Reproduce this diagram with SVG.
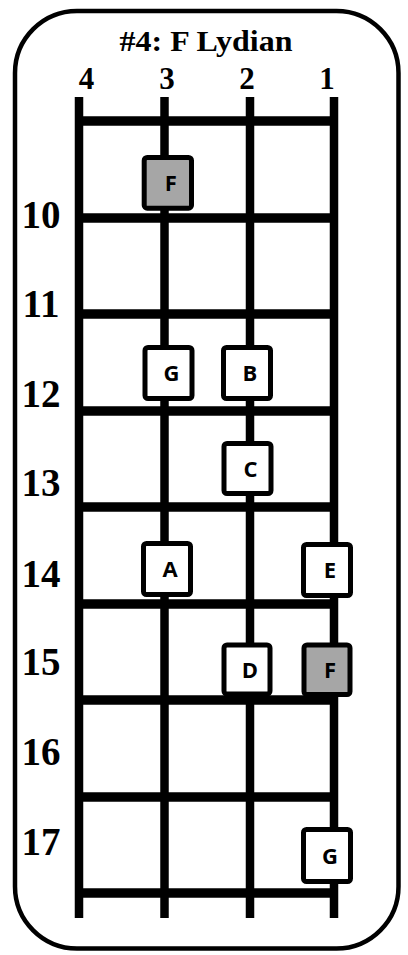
<svg xmlns="http://www.w3.org/2000/svg" width="408" height="955" viewBox="0 0 408 955">
<style>
.frame{fill:#fff;stroke:#000;stroke-width:4.5}
.str{stroke:#000;stroke-width:8.5;fill:none}
.fret{stroke:#000;stroke-width:9.5;fill:none}
.ser{font-family:"Liberation Serif","Times New Roman",serif;font-weight:bold;fill:#000;text-anchor:middle}
.box{fill:#fff;stroke:#000;stroke-width:5}
.root{fill:#a6a6a6}
.lbl{font-family:"Open Sans","Noto Sans",sans-serif;font-weight:bold;font-size:22px;fill:#000;text-anchor:middle}
</style>
<rect class="frame" x="15" y="11" width="383.5" height="937.5" rx="62" ry="62"/>
<text class="ser" x="206" y="51" font-size="29" textLength="173" lengthAdjust="spacingAndGlyphs">#4: F Lydian</text>
<g id="string-labels" class="ser" font-size="31">
<text x="86.5" y="89">4</text>
<text x="167" y="89">3</text>
<text x="247" y="89">2</text>
<text x="327" y="89">1</text>
</g>
<g id="fret-numbers" class="ser" font-size="39">
<text x="41" y="228">10</text>
<text x="41" y="317">11</text>
<text x="41" y="407">12</text>
<text x="41" y="496">13</text>
<text x="41" y="587">14</text>
<text x="41" y="675">15</text>
<text x="41" y="765">16</text>
<text x="41" y="855">17</text>
</g>
<g id="connectors">
<line class="str" x1="79" y1="97" x2="79" y2="918"/>
<line class="str" x1="164.5" y1="97" x2="164.5" y2="918"/>
<line class="str" x1="250" y1="97" x2="250" y2="918"/>
<line class="str" x1="334" y1="97" x2="334" y2="918"/>
<line class="fret" x1="75" y1="121" x2="334" y2="121"/>
<line class="fret" x1="75" y1="218" x2="334" y2="218"/>
<line class="fret" x1="75" y1="314" x2="334" y2="314"/>
<line class="fret" x1="75" y1="411" x2="334" y2="411"/>
<line class="fret" x1="75" y1="507" x2="334" y2="507"/>
<line class="fret" x1="75" y1="604" x2="334" y2="604"/>
<line class="fret" x1="75" y1="700" x2="334" y2="700"/>
<line class="fret" x1="75" y1="797" x2="334" y2="797"/>
<line class="fret" x1="75" y1="893" x2="334" y2="893"/>
</g>
<g id="note-F-top" transform="translate(144.2,157.5)">
<rect class="box root" width="47.3" height="50.7" rx="3"/>
<text class="lbl" x="26.5" y="33.5">F</text>
</g>
<g id="note-G-12" transform="translate(145,347.5)">
<rect class="box" width="47" height="51" rx="3"/>
<text class="lbl" x="26.5" y="33.5">G</text>
</g>
<g id="note-B-12" transform="translate(223.5,347.5)">
<rect class="box" width="47" height="51" rx="3"/>
<text class="lbl" x="26.5" y="33.5">B</text>
</g>
<g id="note-C-13" transform="translate(224,443.5)">
<rect class="box" width="47" height="50" rx="3"/>
<text class="lbl" x="26.5" y="33.5">C</text>
</g>
<g id="note-A-14" transform="translate(143.5,543.5)">
<rect class="box" width="47" height="51" rx="3"/>
<text class="lbl" x="26.5" y="33.5">A</text>
</g>
<g id="note-E-14" transform="translate(303.5,544.5)">
<rect class="box" width="47" height="51" rx="3"/>
<text class="lbl" x="26.5" y="33.5">E</text>
</g>
<g id="note-D-15" transform="translate(224,645)">
<rect class="box" width="46" height="49" rx="3"/>
<text class="lbl" x="26" y="32.5">D</text>
</g>
<g id="note-F-15" transform="translate(304,645)">
<rect class="box root" width="46" height="49.5" rx="3"/>
<text class="lbl" x="26" y="32.5">F</text>
</g>
<g id="note-G-17" transform="translate(303.5,829.5)">
<rect class="box" width="47" height="52" rx="3"/>
<text class="lbl" x="26.5" y="34.5">G</text>
</g>
</svg>
